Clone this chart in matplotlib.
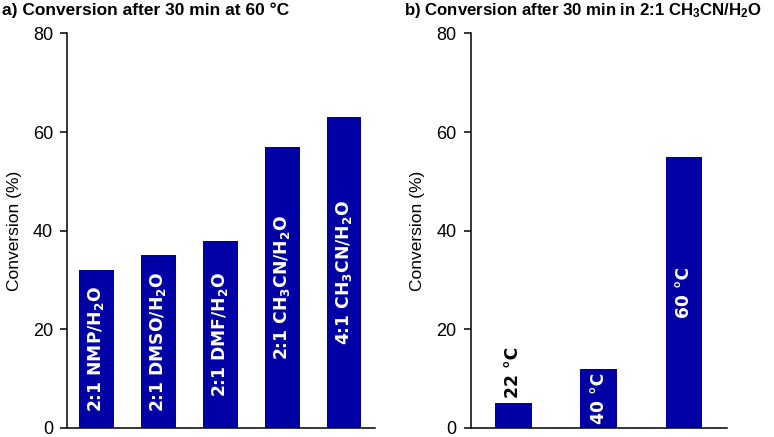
import matplotlib
matplotlib.use("Agg")
import matplotlib.pyplot as plt

plt.rcParams['font.family'] = ['Liberation Sans', 'DejaVu Sans']
plt.rcParams['mathtext.default'] = 'regular'

# panel a: solvent screen at 60 C
solvents = ["2:1 NMP/H$_2$O", "2:1 DMSO/H$_2$O", "2:1 DMF/H$_2$O",
            "2:1 CH$_3$CN/H$_2$O", "4:1 CH$_3$CN/H$_2$O"]
conv_solvent = [32, 35, 38, 57, 63]

# panel b: temperature screen in 2:1 CH3CN/H2O
temps = ["22 °C", "40 °C", "60 °C"]
conv_temp = [5, 12, 55]

bar_color = '#0000a5'
yticks = [0, 20, 40, 60, 80]

fig = plt.figure(figsize=(7.74, 4.37), dpi=100)
ax1 = fig.add_axes([0.0866, 0.0206, 0.398, 0.903])
ax2 = fig.add_axes([0.608, 0.0206, 0.331, 0.903])


def style(ax):
    ax.set_ylim(0, 80)
    ax.set_yticks(yticks)
    ax.spines['top'].set_visible(False)
    ax.spines['right'].set_visible(False)
    ax.spines['left'].set_linewidth(1.1)
    ax.spines['bottom'].set_linewidth(1.1)
    ax.set_xticks([])
    ax.tick_params(axis='y', direction='out', length=5, width=1.1,
                   labelsize=13, pad=5)
    ax.set_ylabel("Conversion (%)", fontsize=12.5, labelpad=8)


# left panel
x1 = range(len(solvents))
ax1.bar(x1, conv_solvent, width=0.56, color=bar_color)
ax1.set_xlim(-0.476, 4.5)
style(ax1)
for i, (lab, v) in enumerate(zip(solvents, conv_solvent)):
    ax1.text(i, v / 2, lab, rotation=90, ha='center', va='center',
             color='white', fontsize=12.3, fontweight='bold',
             family=['DejaVu Sans'])

# right panel
x2 = range(len(temps))
ax2.bar(x2, conv_temp, width=0.43, color=bar_color)
ax2.set_xlim(-0.5, 2.5)
style(ax2)
for i, (lab, v) in enumerate(zip(temps, conv_temp)):
    if v < 10:
        # too short, label goes above the bar
        ax2.text(i, v + 1, lab, rotation=90, ha='center', va='bottom',
                 color='black', fontsize=12.3, fontweight='bold',
                 family=['DejaVu Sans'])
    else:
        ax2.text(i, v / 2, lab, rotation=90, ha='center', va='center',
                 color='white', fontsize=12.3, fontweight='bold',
                 family=['DejaVu Sans'])

fig.text(0.003, 0.966, "a) Conversion after 30 min at 60 °C",
         fontsize=12.5, fontweight='bold', va='baseline')
fig.text(0.522, 0.966, "b) Conversion after 30 min in 2:1 CH$_3$CN/H$_2$O",
         fontsize=12.1, fontweight='bold', va='baseline')

fig.savefig("out.png", dpi=100)
